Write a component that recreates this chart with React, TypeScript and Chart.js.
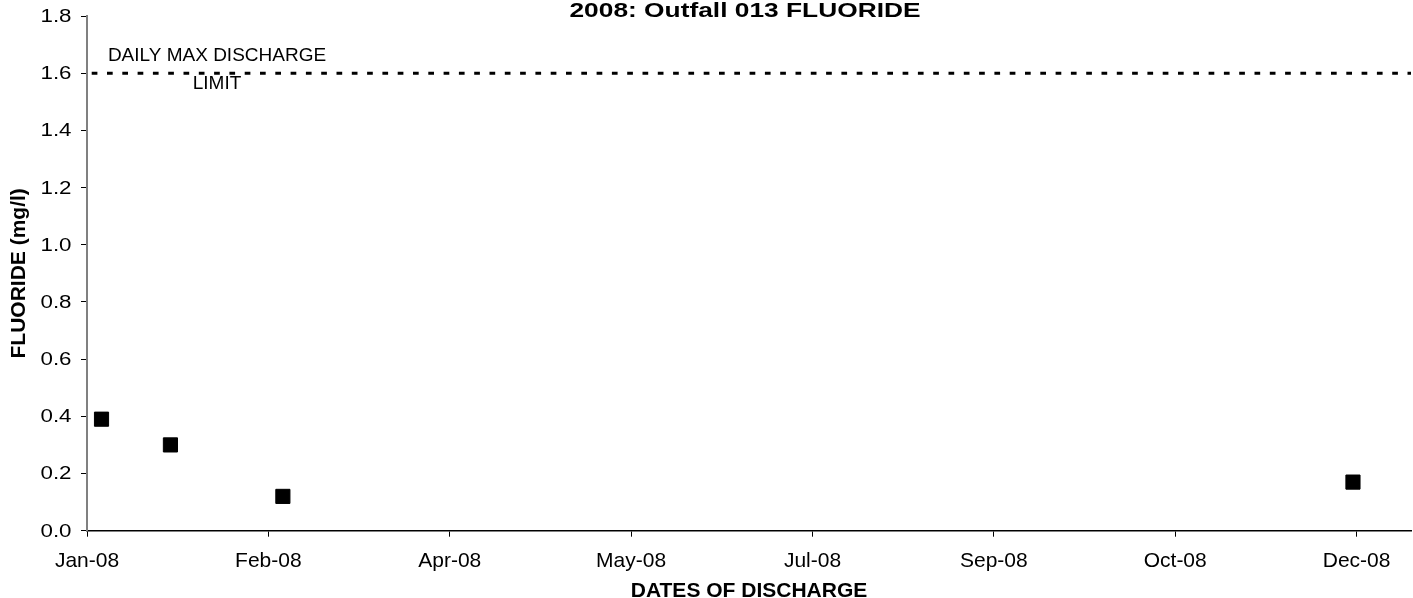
import React, { useEffect, useRef } from 'react';
import { Chart, registerables } from 'chart.js';

Chart.register(...registerables);

// ---------- data ----------
const YEAR_START = '2008-01-01';
const YEAR_END = '2008-12-31';
const SAMPLE_DATES = ['2008-01-05', '2008-01-24', '2008-02-24', '2008-12-15'];
const FLUORIDE_MG_L = [0.39, 0.3, 0.12, 0.17];
const LIMIT_DATES = ['2008-01-01', '2008-12-31'];
const LIMIT_VALUES = [1.6, 1.6];
const X_TICK_LABELS = ['Jan-08', 'Feb-08', 'Apr-08', 'May-08', 'Jul-08', 'Sep-08', 'Oct-08', 'Dec-08'];
const X_TICK_STEP_DAYS = 50;
const Y_TICKS = [0, 0.2, 0.4, 0.6, 0.8, 1.0, 1.2, 1.4, 1.6, 1.8];
const TITLE = '2008: Outfall 013 FLUORIDE';
const X_TITLE = 'DATES OF DISCHARGE';
const Y_TITLE = 'FLUORIDE (mg/l)';
const LIMIT_LABEL = ['DAILY MAX DISCHARGE', 'LIMIT'];

const FONT = '"Liberation Sans", Arial, Helvetica, sans-serif';
const dayOf = (iso: string) => (Date.parse(iso) - Date.parse(YEAR_START)) / 86400000;

const overlayPlugin = {
  id: 'overlayText',
  afterDraw(chart: any) {
    const { ctx, chartArea, scales } = chart;
    const y = scales.y;
    ctx.save();
    ctx.fillStyle = '#000';

    // y tick labels (horizontally stretched like the original)
    ctx.font = `18px ${FONT}`;
    ctx.textAlign = 'right';
    ctx.textBaseline = 'middle';
    Y_TICKS.forEach((v) => {
      const py = y.getPixelForValue(v);
      ctx.save();
      ctx.translate(chartArea.left - 15.5, py + 1);
      ctx.scale(1.24, 1);
      ctx.fillText(v.toFixed(1), 0, 0);
      ctx.restore();
    });

    // main title (stretched)
    ctx.save();
    ctx.font = `bold 19.5px ${FONT}`;
    ctx.textAlign = 'center';
    ctx.textBaseline = 'alphabetic';
    ctx.translate((chartArea.left + chartArea.right) / 2 - 4, 17.3);
    ctx.scale(1.35, 1);
    ctx.fillText(TITLE, 0, 0);
    ctx.restore();

    // limit annotation
    const ly = y.getPixelForValue(LIMIT_VALUES[0]);
    ctx.font = `19px ${FONT}`;
    ctx.textAlign = 'center';
    ctx.textBaseline = 'alphabetic';
    const ax = chartArea.left + 130;
    ctx.fillText(LIMIT_LABEL[0], ax, ly - 12);
    ctx.fillText(LIMIT_LABEL[1], ax, ly + 15.5);

    ctx.restore();
  },
};

export default function App() {
  const canvasRef = useRef<HTMLCanvasElement | null>(null);

  useEffect(() => {
    document.body.style.margin = '0';
    const canvas = canvasRef.current;
    if (!canvas) return;

    const chart = new Chart(canvas, {
      type: 'scatter',
      data: {
        datasets: [
          {
            type: 'line',
            label: 'Limit',
            data: LIMIT_DATES.map((d, i) => ({ x: dayOf(d), y: LIMIT_VALUES[i] })),
            borderColor: '#000',
            borderWidth: 3,
            borderDash: [5.7, 9.6],
            borderDashOffset: 10.6,
            pointRadius: 0,
            fill: false,
            order: 2,
          } as any,
          {
            label: 'Fluoride',
            data: SAMPLE_DATES.map((d, i) => ({ x: dayOf(d), y: FLUORIDE_MG_L[i] })),
            pointStyle: 'rect',
            pointRadius: 10,
            pointHoverRadius: 10,
            backgroundColor: '#000',
            borderColor: '#000',
            borderWidth: 1,
            order: 1,
          },
        ],
      },
      options: {
        responsive: false,
        animation: false,
        events: [],
        layout: { autoPadding: false, padding: { left: 0, right: 2, top: 16, bottom: 0 } },
        plugins: {
          legend: { display: false },
          tooltip: { enabled: false },
          title: { display: false },
        },
        scales: {
          x: {
            type: 'linear',
            min: dayOf(YEAR_START),
            max: dayOf(YEAR_END),
            afterBuildTicks: (scale: any) => {
              scale.ticks = X_TICK_LABELS.map((_, i) => ({ value: i * X_TICK_STEP_DAYS }));
            },
            afterFit: (scale: any) => {
              scale.height = 67.3;
              scale.paddingLeft = 0;
              scale.paddingRight = 0;
            },
            ticks: {
              autoSkip: false,
              maxRotation: 0,
              padding: 12,
              color: '#000',
              font: { family: FONT, size: 21 },
              callback: (v: any) => X_TICK_LABELS[Math.round(Number(v) / X_TICK_STEP_DAYS)] ?? '',
            },
            grid: {
              drawOnChartArea: false,
              drawTicks: true,
              tickLength: 6,
              color: '#000',
              lineWidth: 1,
            },
            border: { display: true, color: '#000', width: 1.5 },
            title: {
              display: true,
              text: X_TITLE,
              color: '#000',
              font: { family: FONT, size: 21, weight: 'bold', lineHeight: 1 },
              padding: { top: 5, bottom: -3.5 },
            },
          },
          y: {
            type: 'linear',
            min: 0,
            max: 1.8,
            afterBuildTicks: (scale: any) => {
              scale.ticks = Y_TICKS.map((v) => ({ value: v }));
            },
            afterFit: (scale: any) => {
              scale.width = 87;
            },
            ticks: {
              color: 'rgba(0,0,0,0)',
              font: { family: FONT, size: 14 },
              callback: (v: any) => Number(v).toFixed(1),
            },
            grid: {
              drawOnChartArea: false,
              drawTicks: true,
              tickLength: 6,
              color: '#000',
              lineWidth: 1,
            },
            border: { display: true, color: '#808080', width: 2 },
            title: {
              display: true,
              text: Y_TITLE,
              color: '#000',
              font: { family: FONT, size: 21, weight: 'bold', lineHeight: 1 },
              padding: { top: 9, bottom: 0 },
            },
          },
        },
      },
      plugins: [overlayPlugin],
    });

    return () => chart.destroy();
  }, []);

  return (
    <div style={{ width: 1413, height: 598 }}>
      <canvas ref={canvasRef} width={1413} height={598} style={{ display: 'block' }} />
    </div>
  );
}
